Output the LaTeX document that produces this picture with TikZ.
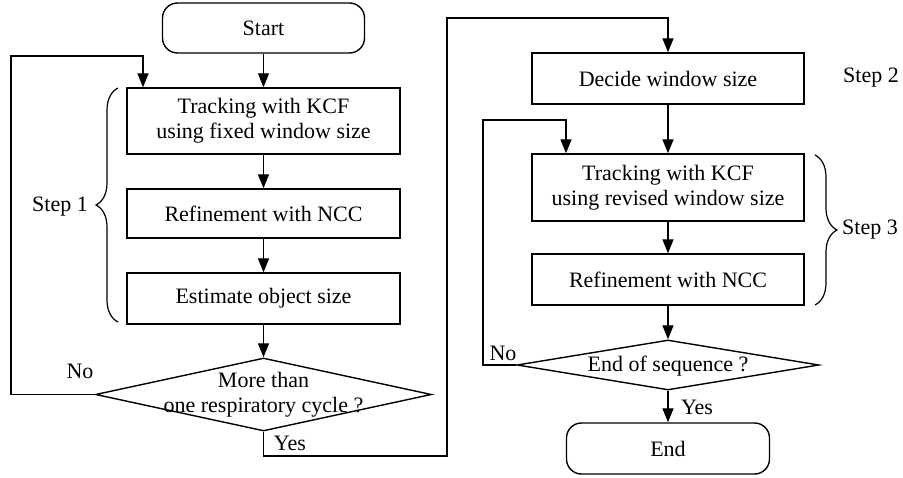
\documentclass[tikz,border=0pt]{standalone}
\usepackage{fontspec}
\setmainfont{Liberation Serif}
\usetikzlibrary{arrows.meta,shapes.geometric,decorations.pathreplacing}
\tikzset{
  every node/.style={font=\fontsize{22pt}{25pt}\selectfont},
  procbox/.style={draw, line width=1.4pt, rectangle, minimum width=273pt, inner sep=0pt, align=center},
  termbox/.style={draw, line width=1.4pt, rectangle, rounded corners=15pt, inner sep=0pt},
  decbox/.style={draw, line width=1.4pt, diamond, inner sep=0pt},
  flow/.style={line width=1.4pt, -{Triangle[length=14pt,width=11pt]}},
  bracedeco/.style={line width=1.2pt, decorate, decoration={brace, amplitude=22pt}},
  lbl/.style={inner sep=0pt}
}
\begin{document}
\begin{tikzpicture}[x=1pt,y=-1pt]
\useasboundingbox (0,0) rectangle (903,478);
% left column
\node[termbox, minimum width=202pt, minimum height=50pt] (start) at (263.5,28) {Start};
\node[procbox, minimum height=66pt] (b1) at (263.5,121) {Tracking with KCF\\using fixed window size};
\node[procbox, minimum height=49pt] (b2) at (263.5,213.5) {Refinement with NCC};
\node[procbox, minimum height=51pt] (b3) at (263.5,298.5) {Estimate object size};
\node[decbox, minimum width=336pt, minimum height=73pt] (d1) at (263.5,394.5) {};
\node[lbl, align=center] (d1t) at (263.5,395) {More than\\one respiratory cycle ?};
% right column
\node[procbox, minimum width=272pt, minimum height=51pt] (dw) at (668,78.5) {Decide window size};
\node[procbox, minimum width=272pt, minimum height=67pt] (b4) at (668,187.5) {Tracking with KCF\\using revised window size};
\node[procbox, minimum width=272pt, minimum height=51pt] (b5) at (668,279.5) {Refinement with NCC};
\node[decbox, minimum width=302pt, minimum height=50pt] (d2) at (668,365) {};
\node[lbl] (d2t) at (668,366) {End of sequence ?};
\node[termbox, minimum width=203pt, minimum height=51pt] (end) at (668,448.5) {End};
% connectors
\draw[flow] (start) -- (b1);
\draw[flow] (b1) -- (b2);
\draw[flow] (b2) -- (b3);
\draw[flow] (b3) -- (d1.north);
\draw[flow] (d1.west) -| (11,56) -| ([xshift=-120.5pt]b1.north);
\draw[flow] (d1.south) |- (447,456) -- (447,18) -| (dw.north);
\draw[flow] (dw) -- (b4);
\draw[flow] (b4) -- (b5);
\draw[flow] (b5) -- (d2.north);
\draw[flow] (d2.south) -- (end);
\draw[flow] (d2.west) -| (483,120) -| ([xshift=-102pt]b4.north);
% labels
\node[lbl] (no1) at (80,371) {No};
\node[lbl] (yes1) at (290,443) {Yes};
\node[lbl] (no2) at (503,353) {No};
\node[lbl] (yes2) at (697,407) {Yes};
% braces
\coordinate (br1a) at (118,322);
\coordinate (br1b) at (118,88);
\draw[bracedeco] (br1a) -- (br1b);
\node[lbl, anchor=east] (s1) at (88,207) {Step 1};
\node[lbl, anchor=west] (s2) at (843,78) {Step 2};
\coordinate (br3a) at (815,155);
\coordinate (br3b) at (815,305);
\draw[bracedeco] (br3a) -- (br3b);
\node[lbl, anchor=west] (s3) at (842,230) {Step 3};
\end{tikzpicture}
\end{document}
